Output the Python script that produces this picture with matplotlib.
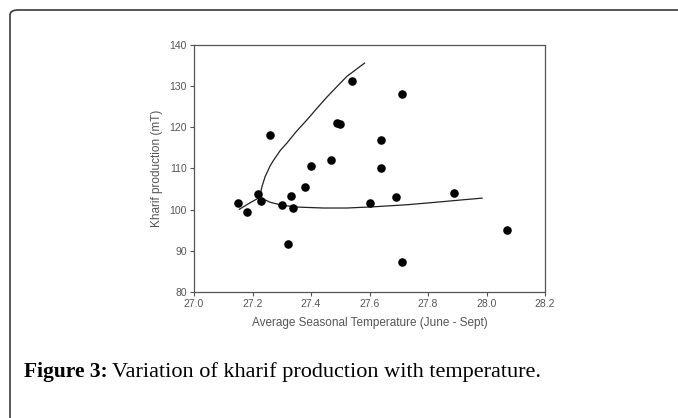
import matplotlib
matplotlib.use("Agg")
import matplotlib.pyplot as plt
from matplotlib.patches import FancyBboxPatch

# observed points
temp = [27.15, 27.18, 27.22, 27.23, 27.26, 27.30, 27.33, 27.34, 27.32, 27.38,
        27.40, 27.47, 27.49, 27.50, 27.54, 27.60, 27.64, 27.64, 27.69, 27.71,
        27.71, 27.89, 28.07]
prod = [101.5, 99.5, 103.9, 102.1, 118.2, 101.1, 103.3, 100.4, 91.6, 105.6,
        110.6, 112.1, 121.0, 120.9, 131.2, 101.6, 117.0, 110.0, 103.0, 128.0,
        87.2, 104.0, 95.1]

# fitted curve (two branches)
upper_x = [27.225, 27.232, 27.243, 27.26, 27.272, 27.295, 27.318, 27.35, 27.386,
           27.42, 27.455, 27.49, 27.523, 27.555, 27.583]
upper_y = [103.2, 105.5, 108.0, 110.6, 112.0, 114.4, 116.2, 119.0, 121.8,
           124.6, 127.4, 130.0, 132.4, 134.1, 135.6]
lower_x = [27.155, 27.19, 27.225, 27.26, 27.306, 27.363, 27.443, 27.523, 27.615,
           27.729, 27.843, 27.92, 27.985]
lower_y = [100.1, 101.6, 103.0, 101.8, 101.0, 100.6, 100.4, 100.4, 100.7,
           101.2, 101.9, 102.4, 102.8]

xticks = [27.0, 27.2, 27.4, 27.6, 27.8, 28.0, 28.2]
yticks = [80, 90, 100, 110, 120, 130, 140]

plt.rcParams['font.family'] = ['Liberation Sans', 'DejaVu Sans']

fig = plt.figure(figsize=(6.78, 4.18), dpi=100)

# rounded frame around the figure (runs off the right and bottom edges)
frame = FancyBboxPatch((10 / 678, -0.2), 1.2, (1 - 10 / 418) + 0.2,
                       boxstyle="round,pad=0,rounding_size=0.012",
                       transform=fig.transFigure, fill=False,
                       edgecolor="#3a3a3a", linewidth=1.2)
fig.patches.append(frame)

ax = fig.add_axes([194 / 678, 1 - 292 / 418, (545 - 194) / 678, (292 - 45) / 418])
ax.plot(upper_x, upper_y, color="#222222", lw=0.9)
ax.plot(lower_x, lower_y, color="#222222", lw=0.9)
ax.scatter(temp, prod, s=38, color="black", zorder=3, linewidths=0)

ax.set_xlim(27.0, 28.2)
ax.set_ylim(80, 140)
ax.set_xticks(xticks)
ax.set_xticklabels(["%.1f" % t for t in xticks])
ax.set_yticks(yticks)
for s in ax.spines.values():
    s.set_color("#555555")
    s.set_linewidth(0.9)
ax.tick_params(direction="out", length=3, width=0.8, color="#555555",
               labelsize=7.5, labelcolor="#555555", pad=2)
ax.set_xlabel("Average Seasonal Temperature (June - Sept)", fontsize=8.5,
              color="#555555", labelpad=6)
ax.set_ylabel("Kharif production (mT)", fontsize=8.5, color="#555555", labelpad=5)

# caption
fig.text(24 / 678, 1 - 372 / 418, "Figure 3:", fontsize=15.5, fontweight="bold",
         family=["Liberation Serif"], va="center", ha="left")
fig.text(112 / 678, 1 - 372 / 418, "Variation of kharif production with temperature.",
         fontsize=16, family=["Liberation Serif"], va="center", ha="left")

fig.savefig("out.png", dpi=100)
